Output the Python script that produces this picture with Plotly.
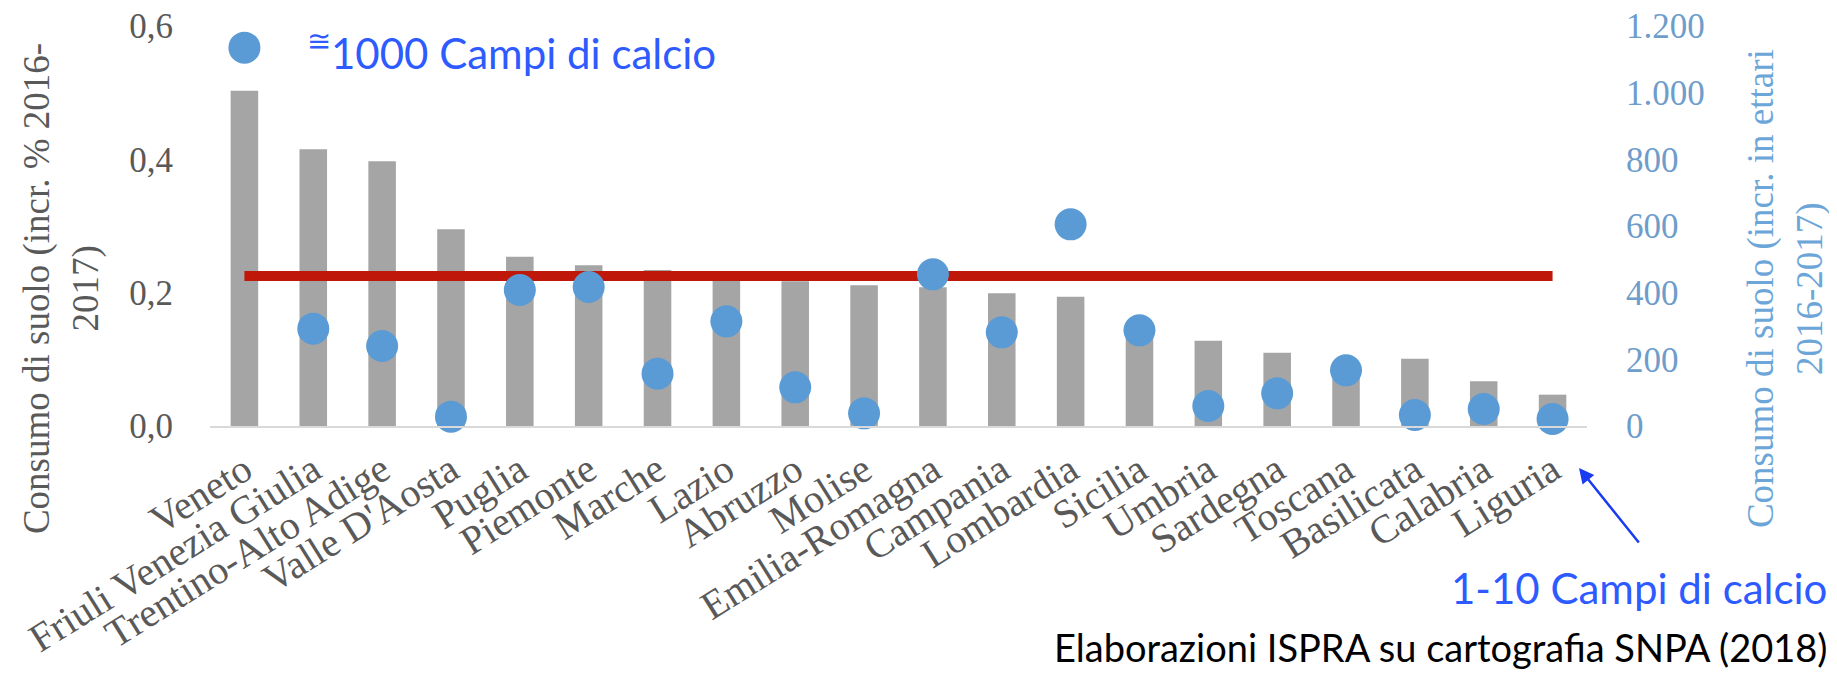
import plotly.graph_objects as go

regioni = ["Veneto", "Friuli Venezia Giulia", "Trentino-Alto Adige", "Valle D'Aosta",
           "Puglia", "Piemonte", "Marche", "Lazio", "Abruzzo", "Molise",
           "Emilia-Romagna", "Campania", "Lombardia", "Sicilia", "Umbria",
           "Sardegna", "Toscana", "Basilicata", "Calabria", "Liguria"]
incr_perc = [0.503, 0.415, 0.397, 0.295, 0.254, 0.241, 0.234, 0.231, 0.217, 0.211,
             0.208, 0.199, 0.194, 0.155, 0.128, 0.110, 0.092, 0.101, 0.067, 0.047]
incr_ettari = [1135, 292, 240, 28, 408, 417, 157, 314, 116, 38,
               455, 281, 605, 287, 60, 98, 167, 33, 51, 21]
media_perc = [0.225] * len(regioni)

left_ticks = [0, 0.2, 0.4, 0.6]
right_ticks = [0, 200, 400, 600, 800, 1000, 1200]

SERIF = "Liberation Serif"
SANS = "Lato"

fig = go.Figure()
fig.add_trace(go.Bar(x=regioni, y=incr_perc, marker_color="#A5A5A5",
                     marker_line_width=0, yaxis="y", name="incr. %"))
fig.add_trace(go.Scatter(x=regioni, y=media_perc, mode="lines",
                         line=dict(color="#C0170B", width=10), yaxis="y",
                         name="media"))
fig.add_trace(go.Scatter(x=regioni, y=incr_ettari, mode="markers",
                         marker=dict(color="#5B9BD5", size=32), yaxis="y2",
                         cliponaxis=False, name="ettari"))

fig.update_layout(
    width=1821, height=661,
    margin=dict(l=202, r=242, t=18, b=243, autoexpand=False),
    paper_bgcolor="white", plot_bgcolor="white",
    showlegend=False, bargap=0.6,
    separators=",.",
    xaxis=dict(range=[-0.5, len(regioni) - 0.5], autorange=False,
               showgrid=False, showline=True, linecolor="#D9D9D9", linewidth=2,
               tickangle=-32, ticks="", ticklabelstandoff=3, automargin=False,
               ticklabeloverflow="allow",
               tickfont=dict(family=SERIF, size=40, color="#595959")),
    yaxis=dict(range=[0, 0.6], tickvals=left_ticks, tickformat=".1f",
               showgrid=False, zeroline=False, ticks="", ticklabelstandoff=36,
               automargin=False, ticklabeloverflow="allow",
               tickfont=dict(family=SERIF, size=35, color="#595959")),
    yaxis2=dict(range=[0, 1200], tickvals=right_ticks, tickformat=",d",
                overlaying="y", side="right", showgrid=False, zeroline=False,
                ticks="", ticklabelstandoff=38, automargin=False,
                ticklabeloverflow="allow",
                tickfont=dict(family=SERIF, size=35, color="#6E9DCB")),
    annotations=[
        dict(text="Consumo di suolo (incr. % 2016-<br>2017)", xref="paper", yref="paper",
             x=-0.108, y=0.343, textangle=-90, showarrow=False,
             xanchor="center", yanchor="middle",
             font=dict(family=SERIF, size=37, color="#595959")),
        dict(text="Consumo di suolo (incr. in ettari<br>2016-2017)", xref="paper", yref="paper",
             x=1.144, y=0.343, textangle=-90, showarrow=False,
             xanchor="center", yanchor="middle",
             font=dict(family=SERIF, size=37, color="#6CA6D9")),
        dict(text="<sup>≅</sup>1000 Campi di calcio", xref="paper", yref="paper",
             x=0.0690, y=0.94, showarrow=False, xanchor="left", yanchor="middle",
             font=dict(family=SANS, size=42, color="#2E5BFF")),
        dict(text="1-10 Campi di calcio", xref="paper", yref="paper",
             x=1.1755, y=-0.405, showarrow=False, xanchor="right", yanchor="middle",
             font=dict(family=SANS, size=42, color="#2E5BFF")),
        dict(text="Elaborazioni ISPRA su cartografia SNPA (2018)", xref="paper", yref="paper",
             x=1.1755, y=-0.552, showarrow=False, xanchor="right", yanchor="middle",
             font=dict(family=SANS, size=38, color="#000000")),
        dict(text="", xref="paper", yref="paper", x=0.9942, y=-0.105,
             showarrow=True, ax=61, ay=76, arrowhead=2, arrowsize=1.2,
             arrowwidth=2.5, arrowcolor="#1A3CF0"),
    ],
)

fig.write_html("out.html")
